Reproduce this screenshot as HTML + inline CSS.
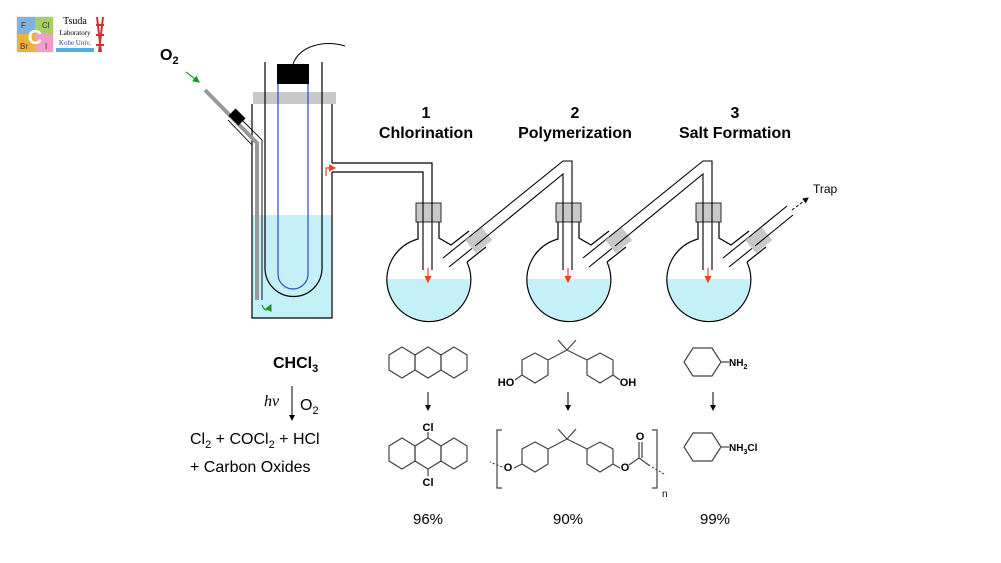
<!DOCTYPE html>
<html><head><meta charset="utf-8"><style>
html,body{margin:0;padding:0;background:#fff;}
svg{display:block;font-family:"Liberation Sans",Arial,sans-serif;}
</style></head><body>
<svg width="1001" height="563" viewBox="0 0 1001 563">
<defs>
<marker id="ab" markerWidth="6" markerHeight="6" refX="5" refY="3" orient="auto"><path d="M0,0 L6,3 L0,6 z" fill="#000"/></marker>
<marker id="ar" markerWidth="6" markerHeight="6" refX="5" refY="3" orient="auto"><path d="M0,0 L6,3 L0,6 z" fill="#e8442a"/></marker>
<marker id="ag" markerWidth="6" markerHeight="6" refX="5" refY="3" orient="auto"><path d="M0,0 L6,3 L0,6 z" fill="#1a9a2a"/></marker>
<g id="flask">
<path d="M386,279 H470 A42,42 0 0 1 386,279 Z" fill="#c4f1f8"/>
<path d="M418,222 V239 A42,42 0 1 0 467,262" fill="none" stroke="#000" stroke-width="1.2"/>
<path d="M439,222 V238 L451,245 L469,231 M467,262 L486,247" fill="none" stroke="#000" stroke-width="1.2"/>
<rect x="416" y="203" width="25" height="19" fill="#c8c8c8" stroke="#000" stroke-width="0.8"/>
<path d="M423,203 V270 M432,203 V270" stroke="#000" stroke-width="1.1"/>
<line x1="428" y1="268" x2="428" y2="282" stroke="#e8442a" stroke-width="1.2" marker-end="url(#ar)"/>
<path d="M443,258 L469,237 M449,267 L475,246" stroke="#000" stroke-width="1.1"/>
<rect x="468" y="232" width="21" height="17" fill="#c8c8c8" transform="rotate(-39 478 240)"/>
</g>
</defs>
<!-- logo -->
<rect x="16" y="16" width="38" height="37" fill="#eee"/>
<rect x="17" y="17" width="18" height="17" fill="#7fb2e0"/>
<rect x="35" y="17" width="18" height="17" fill="#a8d060"/>
<rect x="17" y="34" width="18" height="18" fill="#f0b040"/>
<rect x="35" y="34" width="18" height="18" fill="#f0a0c8"/>
<text x="21" y="28" font-size="8" fill="#333">F</text><text x="42" y="28" font-size="8" fill="#333">Cl</text>
<text x="20" y="49" font-size="8" fill="#333">Br</text><text x="45" y="49" font-size="8" fill="#333">I</text>
<text x="35" y="44" font-size="20" font-weight="bold" fill="#fff" text-anchor="middle">C</text>
<text x="75" y="24" font-size="10" font-family="Liberation Serif" text-anchor="middle">Tsuda</text>
<text x="75" y="35" font-size="7" font-family="Liberation Serif" text-anchor="middle">Laboratory</text>
<text x="75" y="45" font-size="7" font-family="Liberation Serif" fill="#2050a0" text-anchor="middle">Kobe Univ.</text>
<rect x="56" y="48" width="38" height="4" fill="#4ab0e0"/>
<path d="M97,17 L101,52 M103,17 L99,52 M96,25 h8 M96,35 h8 M96,45 h8" stroke="#d03030" stroke-width="2"/>

<text x="160" y="60" font-size="16" font-weight="bold">O<tspan font-size="11" dy="4">2</tspan></text>
<line x1="186" y1="72" x2="199" y2="82" stroke="#1a9a2a" stroke-width="1.2" marker-end="url(#ag)"/>

<rect x="252" y="215" width="80" height="103" fill="#c4f1f8"/>
<path d="M252,104 V318 H332 V172 M332,163 V104" fill="none" stroke="#000" stroke-width="1.2"/>
<rect x="253" y="92" width="83" height="12" fill="#c8c8c8"/>
<path d="M265,62 V268 A28,28 0 0 0 322,268 V62" fill="none" stroke="#000" stroke-width="1.2"/>
<path d="M278,84 V274 A15,15 0 0 0 308,274 V84" fill="none" stroke="#2a4fc0" stroke-width="1.2"/>
<rect x="277" y="64" width="32" height="20" fill="#000"/>
<path d="M293,64 C300,45 325,40 345,46" fill="none" stroke="#000" stroke-width="1"/>
<path d="M205,90 L257,143 V300" fill="none" stroke="#999" stroke-width="4"/>
<path d="M228,120 L252,145 V300 M236,114 L262,140 V300" fill="none" stroke="#000" stroke-width="0.9"/>
<rect x="230" y="112" width="14" height="10" fill="#000" transform="rotate(45 237 117)"/>
<path d="M262,305 q4,10 9,0" fill="none" stroke="#1a9a2a" stroke-width="1.2" marker-end="url(#ag)"/>
<path d="M332,163 H432 V203 M332,172 H423 V203" fill="none" stroke="#000" stroke-width="1.2"/>
<path d="M326,176 V168 H335" fill="none" stroke="#e8442a" stroke-width="1.2" marker-end="url(#ar)"/>

<use href="#flask"/>
<use href="#flask" transform="translate(140,0)"/>
<use href="#flask" transform="translate(280,0)"/>
<path d="M469,237 L563,161 H572 V203 M475,246 L563,174 V203" fill="none" stroke="#000" stroke-width="1.1"/>
<path d="M609,237 L703,161 H712 V203 M615,246 L703,174 V203" fill="none" stroke="#000" stroke-width="1.1"/>
<path d="M749,237 L787,206 M755,246 L793,215" fill="none" stroke="#000" stroke-width="1.1"/>
<line x1="792" y1="210" x2="808" y2="198" stroke="#000" stroke-width="1" stroke-dasharray="3,2" marker-end="url(#ab)"/>
<text x="813" y="193" font-size="12">Trap</text>

<g font-size="16" font-weight="bold" text-anchor="middle">
<text x="426" y="118">1</text><text x="426" y="138">Chlorination</text>
<text x="575" y="118">2</text><text x="575" y="138">Polymerization</text>
<text x="735" y="118">3</text><text x="735" y="138">Salt Formation</text>
</g>

<text x="273" y="368" font-size="16" font-weight="bold">CHCl<tspan font-size="11" dy="4">3</tspan></text>
<text x="264" y="406" font-size="16" font-style="italic" font-family="Liberation Serif">hν</text>
<line x1="292" y1="386" x2="292" y2="420" stroke="#000" stroke-width="1" marker-end="url(#ab)"/>
<text x="300" y="410" font-size="16">O<tspan font-size="11" dy="4">2</tspan></text>
<text x="190" y="444" font-size="16">Cl<tspan font-size="11" dy="4">2</tspan><tspan dy="-4"> + COCl</tspan><tspan font-size="11" dy="4">2</tspan><tspan dy="-4"> + HCl</tspan></text>
<text x="190" y="472" font-size="16">+ Carbon Oxides</text>

<g fill="none" stroke="#444" stroke-width="1.2">
<polygon points="402,347 415,355 415,370 402,378 389,370 389,355"/>
<polygon points="428,347 441,355 441,370 428,378 415,370 415,355"/>
<polygon points="454,347 467,355 467,370 454,378 441,370 441,355"/>
<polygon points="402,438 415,446 415,461 402,469 389,461 389,446"/>
<polygon points="428,438 441,446 441,461 428,469 415,461 415,446"/>
<polygon points="454,438 467,446 467,461 454,469 441,461 441,446"/>
<line x1="428" y1="438" x2="428" y2="432"/><line x1="428" y1="469" x2="428" y2="476"/>
<polygon points="535,353 548,360 548,375 535,383 522,375 522,360"/>
<polygon points="600,353 613,360 613,375 600,383 587,375 587,360"/>
<path d="M548,360 L567,350 L587,360 M567,350 L558,340 M567,350 L576,340 M522,375 L515,380 M613,375 L620,380"/>
<polygon points="535,442 548,449 548,464 535,472 522,464 522,449"/>
<polygon points="600,442 613,449 613,464 600,472 587,464 587,449"/>
<path d="M548,449 L567,439 L587,449 M567,439 L558,429 M567,439 L576,429 M522,464 L514,468 M613,464 L620,468 M629,465 L639,458 L650,466 M639,458 V442 M642,458 V442"/>
<path d="M502,467 L490,462" stroke-dasharray="2,2"/>
<path d="M652,467 L664,474" stroke-dasharray="2,2"/>
<path d="M502,430 H497 V488 H502 M652,430 H657 V488 H652"/>
<polygon points="693,348 712,348 721,362 712,376 693,376 684,362"/>
<line x1="721" y1="362" x2="729" y2="362"/>
<polygon points="693,433 712,433 721,447 712,461 693,461 684,447"/>
<line x1="721" y1="447" x2="729" y2="447"/>
</g>
<g stroke="#000" stroke-width="1">
<line x1="428" y1="392" x2="428" y2="410" marker-end="url(#ab)"/>
<line x1="568" y1="392" x2="568" y2="410" marker-end="url(#ab)"/>
<line x1="713" y1="392" x2="713" y2="410" marker-end="url(#ab)"/>
</g>
<g font-size="11" font-weight="bold" text-anchor="middle">
<text x="428" y="431">Cl</text><text x="428" y="486">Cl</text>
<text x="506" y="386">HO</text><text x="628" y="386">OH</text>
<text x="508" y="471">O</text><text x="625" y="471">O</text><text x="640" y="440">O</text>
</g>
<text x="729" y="366" font-size="10" font-weight="bold">NH<tspan font-size="7" dy="3">2</tspan></text>
<text x="729" y="451" font-size="10" font-weight="bold">NH<tspan font-size="7" dy="3">3</tspan><tspan dy="-3">Cl</tspan></text>
<text x="662" y="497" font-size="10">n</text>
<g font-size="15" text-anchor="middle">
<text x="428" y="524">96%</text><text x="568" y="524">90%</text><text x="715" y="524">99%</text>
</g>
</svg>
</body></html>
